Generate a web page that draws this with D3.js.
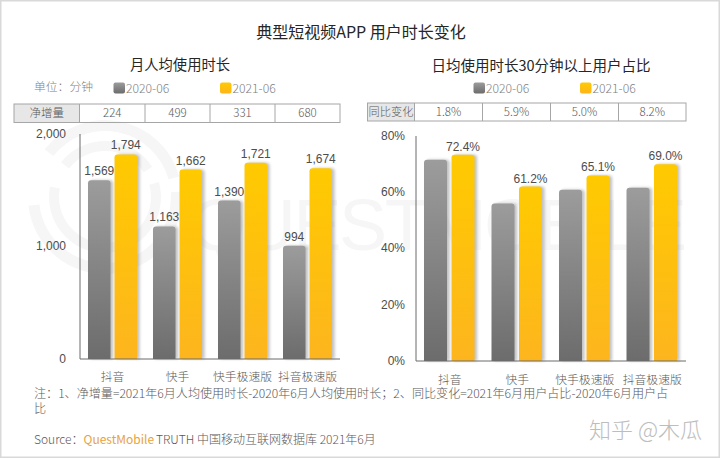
<!DOCTYPE html>
<html>
  <head>
    <meta charset="utf-8" />
    <title>典型短视频APP用户时长变化</title>
    <style>
      html, body { margin: 0; padding: 0; background: #fff; }
      svg { display: block; }
      text { font-family: "Noto Sans CJK SC", "Open Sans", sans-serif; fill: #595959; font-weight: 300; }
      .num { font-family: "Liberation Sans", sans-serif; font-weight: 400; }
    </style>
    <script src="https://d3js.org/d3.v7.min.js" charset="utf-8"></script>
  </head>
  <body>
    <script>
      const categories = ["抖音", "快手", "快手极速版", "抖音极速版"];
      const seriesNames = ["2020-06", "2021-06"];

      const minutes2020 = [1569, 1163, 1390, 994];
      const minutes2021 = [1794, 1662, 1721, 1674];
      const netGrowth = ["224", "499", "331", "680"];
      const minuteTicks = [0, 1000, 2000];

      const share2020 = [70.6, 55.3, 60.1, 60.8];
      const share2021 = [72.4, 61.2, 65.1, 69.0];
      const yoyChange = ["1.8%", "5.9%", "5.0%", "8.2%"];
      const shareTicks = [0, 20, 40, 60, 80];

      const width = 720, height = 458;

      const svg = d3.select("body").append("svg")
        .attr("width", width)
        .attr("height", height);

      const defs = svg.append("defs");

      function gradient(id, top, bottom) {
        const g = defs.append("linearGradient").attr("id", id)
          .attr("x1", 0).attr("y1", 0).attr("x2", 0).attr("y2", 1);
        g.append("stop").attr("offset", "0%").attr("stop-color", top);
        g.append("stop").attr("offset", "100%").attr("stop-color", bottom);
      }
      gradient("grey", "#9c9c9c", "#6c6c6c");
      gradient("gold", "#ffca00", "#fdb51e");

      const blur = defs.append("filter").attr("id", "shadow")
        .attr("x", "-20%").attr("width", "150%").attr("y", "-5%").attr("height", "110%");
      blur.append("feGaussianBlur").attr("stdDeviation", 1.5);

      svg.append("rect")
        .attr("x", 0.75).attr("y", 0.75)
        .attr("width", width - 1.5).attr("height", height - 1.5)
        .attr("fill", "#fff").attr("stroke", "#d9d9d9").attr("stroke-width", 1.5);

      // faint QuestMobile watermark: broken rings plus the wordmark
      const ringArc = d3.arc();
      const rings = [
        [66, 77, -0.9, 1.3], [66, 77, 1.5, 4.6],
        [46, 56, -0.9, 1.0], [46, 56, 1.3, 4.9]
      ];
      svg.append("g")
        .attr("transform", "translate(105,197)")
        .selectAll("path").data(rings).join("path")
        .attr("fill", "#f6f6f6")
        .attr("d", function (r) {
          return ringArc({ innerRadius: r[0], outerRadius: r[1], startAngle: r[2], endAngle: r[3] });
        });
      svg.append("text")
        .attr("x", 190).attr("y", 250)
        .attr("class", "num")
        .style("fill", "#f6f6f6")
        .attr("font-size", 72)
        .attr("textLength", 497)
        .text("QUESTMOBILE");

      svg.append("text")
        .attr("x", 361).attr("y", 38)
        .attr("text-anchor", "middle")
        .attr("font-size", 16).style("font-weight", 400)
        .style("fill", "#262626")
        .text("典型短视频APP 用户时长变化");

      function legend(x1, x2, y) {
        [x1, x2].forEach(function (x, i) {
          svg.append("rect")
            .attr("x", x).attr("y", y - 5.5)
            .attr("width", 11.5).attr("height", 11).attr("rx", 2)
            .attr("fill", i === 0 ? "url(#grey)" : "url(#gold)");
          svg.append("text")
            .attr("x", x + 12.5).attr("y", y + 4.5)
            .attr("font-size", 12.2)
            .style("fill", "#7f7f7f")
            .text(seriesNames[i]);
        });
      }

      function table(edges, y0, y1, head, headSize, cells) {
        const g = svg.append("g");
        g.append("rect")
          .attr("x", edges[0]).attr("y", y0)
          .attr("width", edges[1] - edges[0]).attr("height", y1 - y0)
          .attr("fill", "#e7e7e7");
        g.append("rect")
          .attr("x", edges[0]).attr("y", y0)
          .attr("width", edges[edges.length - 1] - edges[0]).attr("height", y1 - y0)
          .attr("fill", "none").attr("stroke", "#a6a6a6");
        edges.slice(1, -1).forEach(function (x) {
          g.append("line")
            .attr("x1", x).attr("x2", x).attr("y1", y0).attr("y2", y1)
            .attr("stroke", "#a6a6a6");
        });
        [head].concat(cells).forEach(function (t, i) {
          g.append("text")
            .attr("x", (edges[i] + edges[i + 1]) / 2).attr("y", (y0 + y1) / 2 + 4)
            .attr("text-anchor", "middle")
            .attr("font-size", i === 0 ? headSize : 11.5)
            .text(t);
        });
      }

      function panel(o) {
        const x = d3.scaleBand().domain(categories).range([o.left, o.right]).padding(0);
        const y = d3.scaleLinear().domain(o.domain).range([o.base, o.top]);
        // the tick labels sit on a slightly tighter span than the bars
        const yLabel = d3.scaleLinear().domain(o.domain).range(o.labelRange);
        const barW = o.barW;
        const g = svg.append("g");
        const labels = svg.append("g");

        const rounded = function (bx, d) {
          const r = 3, t = y(d);
          return "M" + bx + "," + o.base + "V" + (t + r) + "Q" + bx + "," + t + " " + (bx + r) + "," + t +
            "H" + (bx + barW - r) + "Q" + (bx + barW) + "," + t + " " + (bx + barW) + "," + (t + r) + "V" + o.base + "Z";
        };

        [o.a, o.b].forEach(function (vals, s) {
          const xs = function (i) {
            return x(categories[i]) + o.offset[s];
          };
          g.selectAll(".shadow" + s).data(vals).join("path")
            .attr("class", "shadow" + s)
            .attr("d", function (d, i) { return rounded(xs(i) + 2.5, d); })
            .attr("fill", "#8c8c8c").attr("opacity", 0.55)
            .attr("filter", "url(#shadow)");
          g.selectAll(".bar" + s).data(vals).join("path")
            .attr("class", "bar" + s)
            .attr("d", function (d, i) { return rounded(xs(i), d); })
            .attr("fill", s === 0 ? "url(#grey)" : "url(#gold)");
          if (o.labels[s]) {
            labels.selectAll(".label" + s).data(vals).join("text")
              .attr("class", "label" + s + " num")
              .attr("x", function (d, i) { return xs(i) + barW / 2; })
              .attr("y", function (d) { return y(d) - o.labelGap; })
              .attr("text-anchor", "middle")
              .attr("font-size", 12)
              .style("fill", "#4d4d4d")
              .text(o.fmt);
          }
        });

        const axisY = d3.axisLeft(yLabel).tickValues(o.ticks).tickSize(0).tickPadding(o.pad).tickFormat(o.tickFmt);
        const ay = svg.append("g").attr("transform", "translate(" + o.left + ",0)").call(axisY);
        ay.select(".domain").remove();
        ay.selectAll("text").attr("class", "num").attr("font-size", 12).attr("dy", "0.35em")
          .style("fill", "#4d4d4d");
        svg.append("line")
          .attr("x1", o.left).attr("x2", o.left).attr("y1", o.axisTop).attr("y2", o.base)
          .attr("stroke", "#6b6b6b");

        const axisX = d3.axisBottom(x).tickSize(0).tickPadding(o.catPad);
        const ax = svg.append("g").attr("transform", "translate(0," + o.base + ")").call(axisX);
        ax.select(".domain").remove();
        ax.selectAll("text").attr("font-size", 11.8).style("font-family", '"Noto Sans CJK SC"');
        svg.append("line")
          .attr("x1", o.left).attr("x2", o.right).attr("y1", o.base).attr("y2", o.base)
          .attr("stroke", "#6b6b6b");
      }

      // left panel
      svg.append("text")
        .attr("x", 180).attr("y", 70)
        .attr("text-anchor", "middle")
        .attr("font-size", 14.3).style("font-weight", 400)
        .style("fill", "#262626")
        .text("月人均使用时长");
      svg.append("text")
        .attr("x", 34).attr("y", 91)
        .attr("font-size", 11.8)
        .style("fill", "#7f7f7f")
        .text("单位：分钟");
      legend(113.5, 220, 88);
      table([14, 79.5, 145, 210, 275, 340], 104, 122.5, "净增量", 11.5, netGrowth);
      panel({
        left: 80, right: 340, base: 359, top: 131, axisTop: 134,
        domain: [0, 2000], ticks: minuteTicks, labelRange: [358, 133],
        tickFmt: d3.format(","), fmt: d3.format(","), pad: 14, catPad: 14, labelGap: 5,
        a: minutes2020, b: minutes2021,
        barW: 22.5, offset: [8, 34.5],
        labels: [true, true]
      });

      // right panel
      svg.append("text")
        .attr("x", 541).attr("y", 71)
        .attr("text-anchor", "middle")
        .attr("font-size", 14.5).style("font-weight", 400)
        .style("fill", "#262626")
        .text("日均使用时长30分钟以上用户占比");
      legend(473.5, 580, 88);
      table([367.5, 414.5, 482.5, 550.5, 618.5, 686], 103, 121, "同比变化", 11.2, yoyChange);
      panel({
        left: 416, right: 686, base: 361, top: 133, axisTop: 136,
        domain: [0, 80], ticks: shareTicks, labelRange: [360.5, 135],
        tickFmt: function (d) { return d + "%"; },
        fmt: function (d) { return d.toFixed(1) + "%"; }, pad: 11, catPad: 15, labelGap: 4,
        a: share2020, b: share2021,
        barW: 23, offset: [8, 35.5],
        labels: [false, true]
      });

      svg.append("text")
        .attr("x", 34).attr("y", 398)
        .attr("font-size", 12.08)
        .text("注：1、净增量=2021年6月人均使用时长-2020年6月人均使用时长；2、同比变化=2021年6月用户占比-2020年6月用户占");
      svg.append("text")
        .attr("x", 34).attr("y", 413)
        .attr("font-size", 12.08)
        .text("比");

      const source = svg.append("text")
        .attr("x", 34).attr("y", 444)
        .attr("font-size", 12);
      source.append("tspan").text("Source：");
      source.append("tspan").style("fill", "#e8a33d").style("font-weight", 400).text("QuestMobile");
      source.append("tspan").attr("dx", 2).text("TRUTH 中国移动互联网数据库 2021年6月");

      svg.append("text")
        .attr("x", 702).attr("y", 438)
        .attr("text-anchor", "end")
        .attr("font-size", 22)
        .style("fill", "#bdbdbd")
        .text("知乎 @木瓜");
    </script>
  </body>
</html>
